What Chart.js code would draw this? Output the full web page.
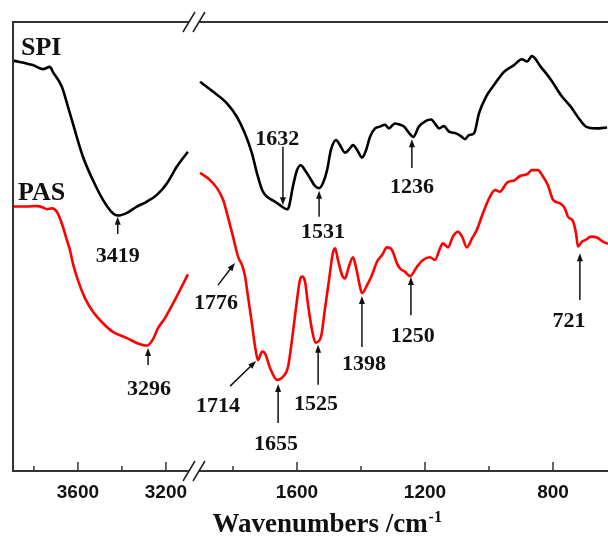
<!DOCTYPE html>
<html>
<head>
<meta charset="utf-8">
<script src="https://cdn.jsdelivr.net/npm/chart.js@4.4.1/dist/chart.umd.min.js"></script>
<style>
  html, body { margin: 0; padding: 0; background: #fff; overflow: hidden; }
  #wrap { width: 608px; height: 537px; }
</style>
</head>
<body>
<div id="wrap"><canvas id="myChart" width="608" height="537"></canvas></div>
<script>
// FTIR spectra of SPI and PAS, wavenumber axis broken between ~3100 and ~1900 cm-1

const spiHighWn = [3895, 3805, 3759, 3727, 3714, 3673, 3645, 3614, 3577, 3532, 3486, 3441, 3418, 3377, 3332, 3286, 3241, 3195, 3150, 3100];
const spiHighT = [91.4, 90.4, 89.5, 90.0, 88.9, 85.6, 81.1, 75.9, 70.0, 64.8, 60.4, 57.4, 56.9, 57.5, 58.9, 60.0, 61.5, 64.1, 67.8, 71.1];

const spiLowWn = [1903, 1863, 1819, 1788, 1763, 1741, 1725, 1709, 1694, 1669, 1647, 1631, 1625, 1613, 1600, 1588, 1575, 1559, 1544, 1531,
  1519, 1506, 1494, 1478, 1466, 1450, 1434, 1425, 1409, 1397, 1384, 1372, 1356, 1341, 1325, 1313, 1294, 1278, 1266, 1244,
  1237, 1219, 1197, 1181, 1166, 1156, 1141, 1125, 1103, 1088, 1075, 1063, 1047, 1031, 1009, 984, 953, 922, 897, 881,
  866, 838, 806, 775, 744, 719, 697, 666, 631];
const spiLowT = [86.7, 84.5, 81.9, 78.9, 75.2, 70.8, 66.3, 62.6, 61.1, 60.0, 58.9, 58.3, 58.9, 63.3, 67.0, 68.1, 67.0, 65.2, 63.5, 63.0,
  64.1, 67.0, 71.5, 73.7, 72.6, 70.9, 71.9, 72.6, 71.1, 69.8, 71.5, 74.4, 76.3, 76.7, 77.1, 76.3, 77.4, 77.1, 76.7, 74.8,
  74.4, 76.7, 78.0, 78.3, 77.1, 76.3, 76.8, 75.6, 75.2, 74.6, 73.9, 74.8, 75.2, 79.7, 83.4, 86.0, 88.9, 90.4, 91.7, 91.2,
  92.4, 90.0, 87.1, 83.7, 81.1, 78.5, 76.7, 76.3, 76.5];

const pasHighWn = [3895, 3832, 3786, 3759, 3741, 3718, 3695, 3682, 3668, 3650, 3636, 3623, 3600, 3568, 3532, 3486, 3441, 3377, 3327, 3286,
  3259, 3236, 3205, 3168, 3136, 3100];
const pasHighT = [58.9, 58.9, 59.0, 58.7, 58.3, 58.5, 57.7, 56.3, 54.4, 51.4, 49.2, 46.3, 42.5, 38.5, 35.5, 32.9, 31.0, 29.6, 28.4, 27.9,
  29.3, 31.8, 34.0, 37.3, 40.3, 43.8];

const pasLowWn = [1903, 1878, 1850, 1831, 1816, 1800, 1784, 1772, 1763, 1753, 1741, 1731, 1722, 1709, 1700, 1684, 1663, 1644, 1628, 1613,
  1600, 1591, 1584, 1575, 1566, 1553, 1541, 1525, 1513, 1500, 1488, 1481, 1472, 1459, 1450, 1438, 1425, 1416, 1403, 1397,
  1381, 1366, 1350, 1334, 1319, 1303, 1288, 1278, 1263, 1247, 1225, 1206, 1184, 1169, 1153, 1144, 1128, 1113, 1097, 1084,
  1069, 1053, 1038, 1019, 997, 981, 966, 944, 919, 903, 881, 866, 847, 834, 816, 800, 778, 763, 753, 738,
  728, 722, 709, 700, 681, 663, 644, 628];
const pasLowT = [66.4, 65.2, 63.0, 60.4, 56.6, 52.2, 47.7, 45.9, 43.6, 38.8, 32.9, 27.7, 24.7, 26.6, 26.2, 22.9, 20.3, 21.0, 23.2, 30.7,
  38.1, 42.5, 43.3, 42.2, 37.3, 31.4, 28.6, 29.9, 35.9, 42.5, 48.5, 49.6, 47.0, 43.6, 42.9, 45.5, 47.6, 45.5, 41.0, 39.6,
  41.4, 43.6, 46.6, 48.1, 49.8, 49.2, 46.3, 45.1, 44.4, 43.4, 45.5, 47.0, 47.6, 47.0, 49.6, 50.7, 49.8, 52.2, 53.3, 52.2,
  49.8, 51.8, 53.7, 57.4, 61.1, 62.6, 62.2, 64.2, 64.8, 65.7, 66.1, 67.0, 67.0, 65.9, 63.7, 60.4, 59.6, 58.5, 56.6, 55.7,
  52.9, 50.0, 51.1, 51.4, 52.2, 52.0, 51.1, 50.6];

const majorTicks = [3600, 3200, 1600, 1200, 800];
const minorTicks = [3800, 3400, 1800, 1400, 1000];

// peak labels: arrow at wn, tip/tail/label heights in %T
const peaks = [
  { text: "3419", wn: 3419, tip: 56.6, tail: 52.8, label: 46.5 },
  { text: "1632", wn: 1644, tip: 59.2, tail: 72.2, label: 72.6, labelWn: 1662 },
  { text: "1531", wn: 1531, tip: 62.4, tail: 56.6, label: 51.9, labelWn: 1519 },
  { text: "1236", wn: 1241, tip: 73.9, tail: 67.5, label: 61.9 },
  { text: "3296", wn: 3281, tip: 27.4, tail: 23.6, label: 16.9, labelWn: 3277 },
  { text: "1776", wn: 1794, tip: 46.3, tail: 41.4, tailWn: 1847, label: 36.1, labelWn: 1853 },
  { text: "1714", wn: 1728, tip: 24.5, tail: 18.9, tailWn: 1809, label: 13.1, labelWn: 1847 },
  { text: "1655", wn: 1659, tip: 19.4, tail: 10.7, label: 4.7, labelWn: 1666 },
  { text: "1525", wn: 1534, tip: 28.1, tail: 19.2, label: 13.6, labelWn: 1541 },
  { text: "1398", wn: 1397, tip: 39.0, tail: 27.6, label: 22.5, labelWn: 1391 },
  { text: "1250", wn: 1244, tip: 43.2, tail: 34.7, label: 28.7, labelWn: 1238 },
  { text: "721", wn: 716, tip: 48.5, tail: 38.1, label: 32.1, labelWn: 750 }
];

const seriesNames = [
  { text: "SPI", wn: 3859, t: 92.6 },
  { text: "PAS", wn: 3872, t: 60.4 }
];

// broken axis: 3895-3100 at 0.22 px per cm-1, 1903-600 at 0.32 px per cm-1
function toAxis(wn) {
  if (wn >= 2500) return (3895 - wn) * 0.22;
  return (2487.5 - wn) * 0.32;
}
const breakPos = 181;

function buildPoints(hiWn, hiT, loWn, loT) {
  const pts = hiWn.map((w, i) => ({ x: toAxis(w), y: hiT[i] }));
  pts.push({ x: breakPos, y: null });
  loWn.forEach((w, i) => pts.push({ x: toAxis(w), y: loT[i] }));
  return pts;
}

const tickLabelAt = {};
majorTicks.forEach(w => { tickLabelAt[toAxis(w).toFixed(2)] = String(w); });

const serif = "'Liberation Serif', 'Times New Roman', serif";

const decorations = {
  id: "decorations",
  afterDatasetsDraw(chart) {
    const { ctx, chartArea: a, scales } = chart;
    const xs = scales.x, ys = scales.y;
    ctx.save();

    // frame
    ctx.strokeStyle = "#333";
    ctx.lineWidth = 2;
    ctx.beginPath();
    ctx.moveTo(a.right + 2, a.top);
    ctx.lineTo(a.left, a.top);
    ctx.lineTo(a.left, a.bottom);
    ctx.lineTo(a.right + 2, a.bottom);
    ctx.stroke();

    // inward ticks
    ctx.lineWidth = 1.5;
    majorTicks.forEach(w => {
      const x = xs.getPixelForValue(toAxis(w));
      ctx.beginPath(); ctx.moveTo(x, a.bottom); ctx.lineTo(x, a.bottom - 9); ctx.stroke();
    });
    minorTicks.forEach(w => {
      const x = xs.getPixelForValue(toAxis(w));
      ctx.beginPath(); ctx.moveTo(x, a.bottom); ctx.lineTo(x, a.bottom - 5); ctx.stroke();
    });

    // break marks
    const bx = xs.getPixelForValue(breakPos);
    [a.top, a.bottom].forEach(y => {
      ctx.fillStyle = "#fff";
      ctx.beginPath();
      ctx.moveTo(bx - 5 - 3, y + 5); ctx.lineTo(bx + 5 - 3, y + 5);
      ctx.lineTo(bx + 5 + 3, y - 5); ctx.lineTo(bx - 5 + 3, y - 5);
      ctx.closePath(); ctx.fill();
      ctx.strokeStyle = "#222";
      ctx.lineWidth = 1.5;
      [-5, 5].forEach(o => {
        ctx.beginPath();
        ctx.moveTo(bx + o - 6, y + 10);
        ctx.lineTo(bx + o + 6, y - 10);
        ctx.stroke();
      });
    });

    // peak arrows and labels
    ctx.fillStyle = "#111";
    ctx.strokeStyle = "#111";
    ctx.font = "bold 22px " + serif;
    ctx.textAlign = "center";
    ctx.textBaseline = "alphabetic";
    peaks.forEach(p => {
      const tx = xs.getPixelForValue(toAxis(p.wn));
      const ty = ys.getPixelForValue(p.tip);
      const sx = xs.getPixelForValue(toAxis(p.tailWn || p.wn));
      const sy = ys.getPixelForValue(p.tail);
      const ang = Math.atan2(ty - sy, tx - sx);
      ctx.lineWidth = 1.5;
      ctx.beginPath(); ctx.moveTo(sx, sy);
      ctx.lineTo(tx - 5 * Math.cos(ang), ty - 5 * Math.sin(ang)); ctx.stroke();
      ctx.beginPath();
      ctx.moveTo(tx, ty);
      ctx.lineTo(tx - 8 * Math.cos(ang) + 3 * Math.sin(ang), ty - 8 * Math.sin(ang) - 3 * Math.cos(ang));
      ctx.lineTo(tx - 8 * Math.cos(ang) - 3 * Math.sin(ang), ty - 8 * Math.sin(ang) + 3 * Math.cos(ang));
      ctx.closePath(); ctx.fill();
      const lx = xs.getPixelForValue(toAxis(p.labelWn || p.wn));
      ctx.fillText(p.text, lx, ys.getPixelForValue(p.label));
    });

    // series names
    ctx.font = "bold 26px " + serif;
    ctx.textAlign = "left";
    seriesNames.forEach(s => {
      ctx.fillText(s.text, xs.getPixelForValue(toAxis(s.wn)), ys.getPixelForValue(s.t));
    });

    // axis title with superscript
    const main = "Wavenumbers /cm";
    ctx.font = "bold 27px " + serif;
    const mw = ctx.measureText(main).width;
    const cx = 320;
    ctx.fillText(main, cx - mw / 2, 532);
    ctx.font = "bold 16px " + serif;
    ctx.fillText("-1", cx + mw / 2 + 1, 522);

    ctx.restore();
  }
};

const ctx = document.querySelector("#myChart");

const data = {
  datasets: [
    {
      label: "SPI",
      data: buildPoints(spiHighWn, spiHighT, spiLowWn, spiLowT),
      borderColor: "#000",
      borderWidth: 2.6,
      pointRadius: 0,
      cubicInterpolationMode: "monotone",
      spanGaps: false,
    },
    {
      label: "PAS",
      data: buildPoints(pasHighWn, pasHighT, pasLowWn, pasLowT),
      borderColor: "#f00",
      borderWidth: 2.6,
      pointRadius: 0,
      cubicInterpolationMode: "monotone",
      spanGaps: false,
    },
  ],
};

const options = {
  responsive: false,
  animation: false,
  devicePixelRatio: 1,
  layout: { padding: { left: 13, top: 22, right: 0, bottom: 0 } },
  plugins: {
    legend: { display: false },
    tooltip: { enabled: false },
  },
  scales: {
    x: {
      type: "linear",
      min: 0,
      max: 595,
      afterBuildTicks: (scale) => {
        scale.ticks = majorTicks.map(w => ({ value: toAxis(w) }));
      },
      afterFit: (scale) => { scale.height = 66; },
      grid: { display: false, drawTicks: false },
      border: { display: false },
      ticks: {
        autoSkip: false,
        maxRotation: 0,
        padding: 10,
        color: "#111",
        font: { family: "'Liberation Sans', Arial, sans-serif", size: 19, weight: "bold" },
        callback: (value) => tickLabelAt[Number(value).toFixed(2)] || "",
      },
    },
    y: {
      display: false,
      min: 0,
      max: 100,
    },
  },
};

const chart = new Chart(ctx, {
  type: "line",
  data: data,
  options: options,
  plugins: [decorations],
});
</script>
</body>
</html>
